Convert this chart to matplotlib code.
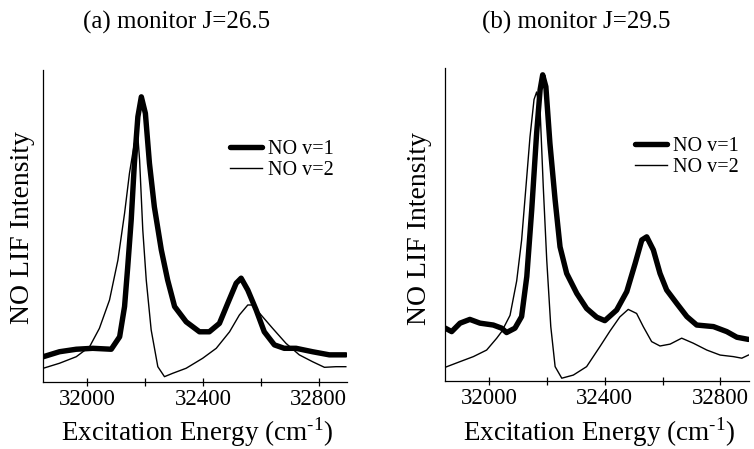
import numpy as np
import matplotlib.pyplot as plt

plt.rcParams['font.family'] = ['Liberation Serif', 'DejaVu Serif']
plt.rcParams['mathtext.fontset'] = 'custom'
plt.rcParams['mathtext.rm'] = 'Liberation Serif'

# (a) monitor J=26.5
a_v1_x = [31848, 31904, 31962, 32019, 32083, 32112, 32129, 32140, 32152, 32163,
          32175, 32187, 32201, 32215, 32232, 32256, 32278, 32302, 32342, 32388,
          32422, 32457, 32486, 32515, 32532, 32555, 32584, 32612, 32647, 32681,
          32722, 32779, 32837, 32894]
a_v1_y = [8.0, 9.6, 10.4, 10.7, 10.4, 14.4, 24.1, 36.9, 51.9, 70.1,
          85.0, 91.4, 86.1, 70.1, 56.1, 42.3, 32.6, 24.1, 19.2, 16.0,
          16.0, 18.7, 25.2, 31.6, 33.2, 29.4, 23.0, 16.0, 11.8, 10.7,
          10.7, 9.6, 8.6, 8.6]
a_v2_x = [31848, 31904, 31962, 32008, 32042, 32077, 32106, 32129, 32146, 32163,
          32175, 32181, 32192, 32204, 32221, 32244, 32267, 32296, 32342, 32399,
          32446, 32492, 32526, 32555, 32572, 32601, 32641, 32687, 32733, 32779,
          32820, 32860, 32894]
a_v2_y = [4.3, 5.9, 8.0, 11.2, 17.1, 26.2, 39.0, 54.0, 66.9, 76.5,
          78.6, 71.1, 48.7, 32.6, 16.6, 4.8, 1.6, 2.7, 4.3, 7.5,
          10.7, 16.0, 21.4, 24.6, 24.6, 21.4, 17.1, 12.3, 8.6, 6.4,
          4.6, 4.8, 4.8]

# (b) monitor J=29.5
b_v1_x = [31848, 31870, 31899, 31933, 31968, 32014, 32043, 32060, 32089, 32112,
          32130, 32147, 32164, 32176, 32185, 32196, 32210, 32228, 32245, 32268,
          32303, 32337, 32372, 32400, 32441, 32476, 32505, 32528, 32545, 32568,
          32591, 32614, 32649, 32684, 32718, 32776, 32822, 32857, 32897]
b_v1_y = [16.9, 15.8, 18.5, 19.7, 18.5, 17.9, 16.9, 15.5, 16.9, 20.6,
          33.4, 54.7, 79.2, 93.1, 97.9, 94.1, 76.0, 57.9, 42.9, 34.4,
          28.0, 23.2, 20.4, 19.3, 22.7, 28.6, 37.6, 45.1, 46.1, 41.9,
          34.4, 29.1, 24.8, 20.6, 17.9, 17.4, 15.8, 14.0, 13.3]
b_v2_x = [31848, 31899, 31945, 31991, 32026, 32043, 32072, 32095, 32112, 32127,
          32141, 32155, 32164, 32176, 32187, 32199, 32213, 32228, 32251, 32291,
          32337, 32383, 32418, 32452, 32481, 32510, 32533, 32562, 32591, 32626,
          32666, 32706, 32753, 32799, 32845, 32874, 32897]
b_v2_y = [4.4, 6.2, 7.8, 9.9, 13.7, 15.8, 21.0, 32.0, 45.0, 62.0,
          78.0, 90.0, 92.4, 86.7, 62.1, 38.7, 17.4, 4.6, 0.9, 1.9,
          4.6, 11.0, 16.0, 20.5, 22.9, 21.6, 17.4, 12.6, 11.2, 11.8,
          13.7, 12.1, 9.9, 8.3, 7.8, 7.3, 8.3]

titles = ['(a) monitor J=26.5', '(b) monitor J=29.5']
tick_vals = [32000, 32200, 32400, 32600, 32800]
tick_text = ['32000', '', '32400', '', '32800']
labels = ['NO v=1', 'NO v=2']

fig = plt.figure(figsize=(7.54, 4.49), dpi=100)
ax_a = fig.add_axes([0.0574, 0.150, 0.4028, 0.694])
ax_b = fig.add_axes([0.5906, 0.1514, 0.4024, 0.6966])

panels = [
    (ax_a, a_v1_x, a_v1_y, a_v2_x, a_v2_y, (0.615, 0.775)),
    (ax_b, b_v1_x, b_v1_y, b_v2_x, b_v2_y, (0.625, 0.780)),
]

for ax, x1, y1, x2, y2, leg_pos in panels:
    ax.plot(x1, y1, color='black', lw=3.9, solid_joinstyle='round',
            solid_capstyle='round', label=labels[0])
    ax.plot(x2, y2, color='black', lw=1.0, solid_joinstyle='round',
            label=labels[1])
    ax.set_xlim(31848, 32898)
    ax.set_ylim(0, 100)
    ax.set_xticks(tick_vals)
    ax.set_xticklabels(tick_text, fontsize=16.5)
    ax.tick_params(axis='x', direction='inout', length=6, width=0.9, pad=2)
    ax.set_yticks([])
    for s in ['top', 'right']:
        ax.spines[s].set_visible(False)
    for s in ['left', 'bottom']:
        ax.spines[s].set_linewidth(0.9)
    ax.legend(loc='upper left', bbox_to_anchor=leg_pos, frameon=False,
              fontsize=14.5, handlelength=1.6, handletextpad=0.3,
              labelspacing=0.1, borderpad=0, borderaxespad=0)

# titles and axis labels
fig.text(177 / 754, 1 - 22 / 449, titles[0], ha='center', va='center', fontsize=18)
fig.text(576 / 754, 1 - 22 / 449, titles[1], ha='center', va='center', fontsize=18)
for xc in [197.5 / 754, 598.7 / 754]:
    fig.text(xc, 1 - 432 / 449, r'Excitation Energy (cm$^{\text{-1}}$)',
             ha='center', va='center', fontsize=19.5)
fig.text(23 / 754, 1 - 227.5 / 449, 'NO LIF Intensity', rotation=90,
         ha='center', va='center', fontsize=20)
fig.text(420 / 754, 1 - 229 / 449, 'NO LIF Intensity', rotation=90,
         ha='center', va='center', fontsize=20)

fig.savefig('out.png', dpi=100)
